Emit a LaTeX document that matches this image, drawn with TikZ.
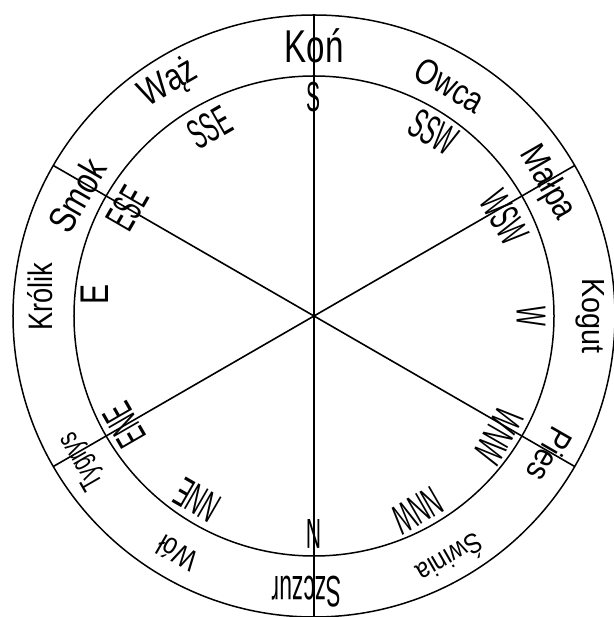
\documentclass[tikz,border=0pt]{standalone}
\usepackage{fontspec}
\setmainfont{Liberation Sans}
\newcommand\fsz[1]{\fontsize{#1}{#1}\selectfont}
\begin{document}
\begin{tikzpicture}[x=1pt,y=1pt,
  ring/.style={circle,draw,line width=1.5pt,outer sep=0pt,inner sep=0pt},
  divider/.style={line width=1.6pt},
  outerlab/.style={inner sep=0pt,font=\fsz{34}},
  innerlab/.style={inner sep=0pt,font=\fsz{42}}]
\useasboundingbox (-314,-301) rectangle (299,316);
\node[ring,minimum size=602pt] (outer) at (0,0) {};
\node[ring,minimum size=480pt] (inner) at (0,0) {};
\draw[divider] (outer.90) -- (outer.270);
\draw[divider] (outer.150) -- (outer.-30);
\draw[divider] (outer.30) -- (outer.210);
% outer ring
\node[outerlab,font=\fsz{46},rotate=0,xscale=0.72] (kon) at (90:270) {Koń};
\node[outerlab,font=\fsz{36},rotate=-30,xscale=0.8] (owca) at (59.5:268) {Owca};
\node[outerlab,font=\fsz{36},rotate=-60,xscale=0.8] (malpa) at (29.7:268) {Małpa};
\node[outerlab,font=\fsz{32},rotate=-90,xscale=0.9] (kogut) at (0:276) {Kogut};
\node[outerlab,font=\fsz{34},rotate=-120,xscale=0.85] (pies) at (-30.5:274) {Pies};
\node[outerlab,font=\fsz{28},rotate=-150,xscale=0.85] (swinia) at (-60.7:280) {Świnia};
\node[outerlab,font=\fsz{44},rotate=-180,xscale=0.52] (szczur) at (-91.5:276) {Szczur};
\node[outerlab,font=\fsz{30},rotate=150,xscale=0.8] (wol) at (240:274) {Wół};
\node[outerlab,font=\fsz{30},rotate=120,xscale=0.68] (tygrys) at (212:273) {Tygrys};
\node[outerlab,font=\fsz{34},rotate=90,xscale=0.8] (krolik) at (176:275) {Królik};
\node[outerlab,font=\fsz{38},rotate=60,xscale=0.8] (smok) at (153:266) {Smok};
\node[outerlab,font=\fsz{38},rotate=30,xscale=0.8] (waz) at (122:274) {Wąż};
% inner ring
\node[innerlab,rotate=0,xscale=0.5] (s) at (90:219) {S};
\node[innerlab,rotate=-30,xscale=0.5] (ssw) at (57:219) {SSW};
\node[innerlab,rotate=-60,xscale=0.5] (wsw) at (27.4:215) {WSW};
\node[innerlab,rotate=-90,xscale=0.5] (w) at (0:217) {W};
\node[innerlab,rotate=-120,xscale=0.5] (wnw) at (-33:220) {WNW};
\node[innerlab,rotate=-150,xscale=0.5] (nnw) at (-62:220) {NNW};
\node[innerlab,rotate=-180,xscale=0.5] (n) at (-90:218) {N};
\node[innerlab,rotate=150,xscale=0.5] (nne) at (237.5:218) {NNE};
\node[innerlab,rotate=120,xscale=0.5] (ene) at (210:219) {ENE};
\node[innerlab,font=\fsz{40},rotate=90,xscale=0.75] (e) at (174.5:220) {E};
\node[innerlab,rotate=60,xscale=0.5] (ese) at (150:215) {ESE};
\node[innerlab,rotate=30,xscale=0.5] (sse) at (119:215) {SSE};
\end{tikzpicture}
\end{document}
